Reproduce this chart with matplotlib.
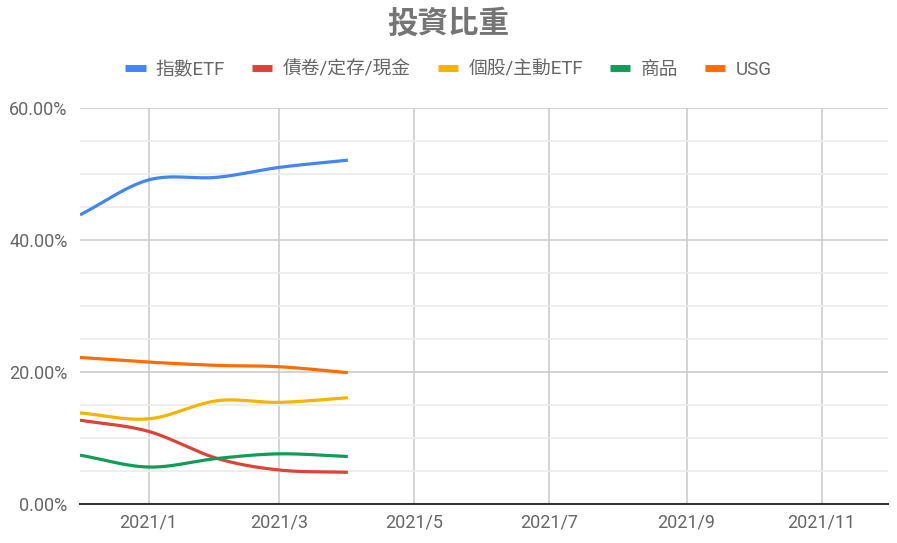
import numpy as np
import matplotlib
matplotlib.use("Agg")
import matplotlib.pyplot as plt
import matplotlib.dates as mdates
from matplotlib.lines import Line2D
from matplotlib.ticker import MultipleLocator, FuncFormatter
import datetime as dt

plt.rcParams['font.family'] = ['Roboto', 'Noto Sans CJK TC', 'DejaVu Sans']

# --- data ---
dates = ["2020-12-01", "2021-01-01", "2021-02-01", "2021-03-01", "2021-04-01"]
index_etf = [43.8, 49.1, 49.5, 51.0, 52.1]
bond_cash = [12.7, 11.0, 6.9, 5.15, 4.8]
stock_active = [13.8, 12.9, 15.65, 15.4, 16.1]
commodity = [7.4, 5.6, 6.9, 7.6, 7.2]
usg = [22.2, 21.5, 21.0, 20.8, 19.9]

series_names = ["指數ETF", "債卷/定存/現金", "個股/主動ETF", "商品", "USG"]
series_values = [index_etf, bond_cash, stock_active, commodity, usg]
colors = ["#4285F4", "#DB4437", "#F4B400", "#0F9D58", "#FF6D01"]

tick_dates = ["2021-01-01", "2021-03-01", "2021-05-01", "2021-07-01", "2021-09-01", "2021-11-01"]
tick_labels = ["2021/1", "2021/3", "2021/5", "2021/7", "2021/9", "2021/11"]


def smooth(x, y, n=40):
    # cubic hermite with catmull-rom style tangents (like the sheets "smooth" option)
    x = np.asarray(x, float)
    y = np.asarray(y, float)
    m = np.zeros_like(y)
    m[1:-1] = (y[2:] - y[:-2]) / (x[2:] - x[:-2])
    m[0] = (y[1] - y[0]) / (x[1] - x[0])
    m[-1] = (y[-1] - y[-2]) / (x[-1] - x[-2])
    xs, ys = [], []
    for i in range(len(x) - 1):
        h = x[i + 1] - x[i]
        t = np.linspace(0, 1, n)
        h00 = 2 * t**3 - 3 * t**2 + 1
        h10 = t**3 - 2 * t**2 + t
        h01 = -2 * t**3 + 3 * t**2
        h11 = t**3 - t**2
        xs.append(x[i] + t * h)
        ys.append(h00 * y[i] + h10 * h * m[i] + h01 * y[i + 1] + h11 * h * m[i + 1])
    return np.concatenate(xs), np.concatenate(ys)


xnum = mdates.date2num([dt.datetime.fromisoformat(d) for d in dates])

fig = plt.figure(figsize=(8.97, 5.43), dpi=100)
ax = fig.add_axes([80 / 897, 1 - 504 / 543, 808 / 897, 396 / 543])

for name, vals, c in zip(series_names, series_values, colors):
    sx, sy = smooth(xnum, vals)
    ax.plot(sx, sy, color=c, lw=2.3, solid_capstyle='butt', zorder=3)

ax.set_xlim(mdates.date2num(dt.datetime(2020, 12, 1)), mdates.date2num(dt.datetime(2021, 12, 1)))
ax.set_ylim(0, 60)

ax.yaxis.set_major_locator(MultipleLocator(20))
ax.yaxis.set_minor_locator(MultipleLocator(5))
ax.yaxis.set_major_formatter(FuncFormatter(lambda v, p: f"{v:.2f}%"))
ax.set_xticks(mdates.date2num([dt.datetime.fromisoformat(d) for d in tick_dates]))
ax.set_xticklabels(tick_labels)

ax.grid(which='major', axis='both', color='#cccccc', lw=1.2, zorder=0)
ax.grid(which='minor', axis='y', color='#ebebeb', lw=1.2, zorder=0)
ax.tick_params(which='both', length=0, labelsize=13, colors='#666666')
ax.tick_params(axis='y', pad=9)
ax.tick_params(axis='x', pad=7)
for s in ['top', 'right', 'left']:
    ax.spines[s].set_visible(False)
ax.spines['bottom'].set_color('#333333')
ax.spines['bottom'].set_linewidth(1.5)
ax.spines['bottom'].set_zorder(4)

fig.text(0.5, 1 - 24 / 543, "投資比重", ha='center', va='center', fontsize=22,
         fontweight='bold', color='#757575', family=['Noto Sans CJK TC'])

handles = [Line2D([0], [0], color=c, lw=5, solid_capstyle='butt') for c in colors]
fig.legend(handles, series_names, loc='center', bbox_to_anchor=(0.5, 1 - 70 / 543), ncol=5,
           frameon=False, fontsize=13.5, labelcolor='#666666', handlelength=1.07,
           handletextpad=0.55, columnspacing=1.45)

fig.savefig("out.png", dpi=100)
